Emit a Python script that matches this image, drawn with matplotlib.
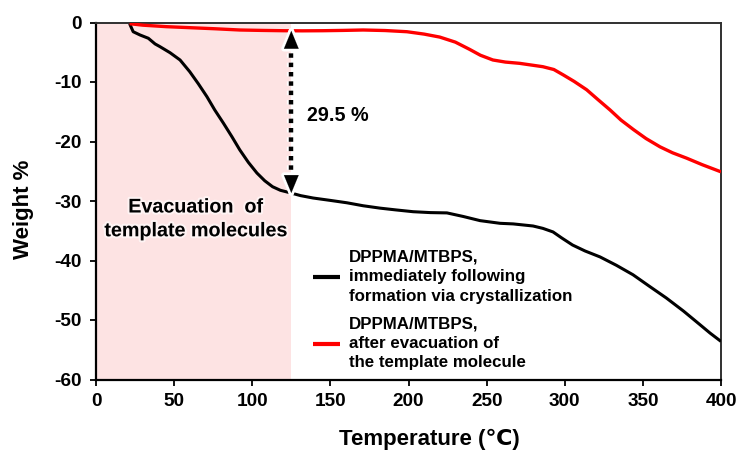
import matplotlib
matplotlib.use("Agg")
import matplotlib.pyplot as plt
import matplotlib.patheffects as pe
import numpy as np

plt.rcParams['font.family'] = ['Liberation Sans', 'DejaVu Sans']
plt.rcParams['font.weight'] = 'bold'
plt.rcParams['axes.unicode_minus'] = False

# TGA curve: as-crystallised DPPMA/MTBPS
temp_fresh = [21.5, 23.8, 28.2, 33.5, 37.8, 41, 47.4, 53.8, 60, 65.5, 71, 76, 81.5, 87,
              92, 97.5, 103, 108, 113, 118, 124, 131, 139, 150, 160.6, 171, 181.8, 192,
              203, 214, 224.6, 235, 245.8, 258.6, 267, 279.7, 286, 292.5, 298, 305,
              313, 322.6, 333, 343.7, 354, 365, 376, 386.6, 393, 400]
weight_fresh = [-0.2, -1.55, -2.1, -2.65, -3.6, -4.07, -5.08, -6.3, -8.27, -10.3, -12.47,
                -14.7, -16.9, -19.2, -21.4, -23.5, -25.3, -26.6, -27.6, -28.2, -28.6,
                -29.1, -29.5, -29.9, -30.3, -30.8, -31.2, -31.5, -31.8, -31.95, -32.0,
                -32.6, -33.3, -33.75, -33.85, -34.2, -34.6, -35.2, -36.2, -37.4, -38.4,
                -39.4, -40.8, -42.4, -44.3, -46.3, -48.5, -50.8, -52.2, -53.6]

# TGA curve: after evacuation of the template molecule
temp_evac = [21.5, 30, 45, 60, 76, 92, 106, 119.7, 132, 145, 158, 171, 185, 199, 210,
             220, 230, 239, 246, 254, 262, 271, 286, 293, 299, 306, 314, 321, 329,
             336, 344, 352, 361, 369, 378, 388, 400]
weight_evac = [-0.2, -0.45, -0.7, -0.87, -1.05, -1.26, -1.33, -1.38, -1.4, -1.38, -1.33,
               -1.26, -1.35, -1.55, -1.95, -2.45, -3.3, -4.5, -5.5, -6.3, -6.65, -6.86,
               -7.43, -7.9, -8.8, -9.9, -11.3, -12.9, -14.7, -16.4, -18.0, -19.5,
               -20.9, -21.9, -22.8, -23.9, -25.1]

labels = ["DPPMA/MTBPS,\nimmediately following\nformation via crystallization",
          "DPPMA/MTBPS,\nafter evacuation of\nthe template molecule"]

evac_end = 125          # end of template-evacuation stage (°C)
loss_text = "29.5 %"

x_ticks = [0, 50, 100, 150, 200, 250, 300, 350, 400]
y_ticks = [0, -10, -20, -30, -40, -50, -60]

fig = plt.figure(figsize=(7.4, 4.5), dpi=100)
ax = fig.add_axes([96 / 740, 1 - 379.5 / 450, 625 / 740, 357 / 450])

ax.axvspan(0, evac_end, color='#FDE3E3', lw=0, zorder=0)

ax.plot(temp_fresh, weight_fresh, color='black', lw=2.2, label=labels[0], zorder=3,
        solid_capstyle='butt')
ax.plot(temp_evac, weight_evac, color='#FF0000', lw=2.4, label=labels[1], zorder=3,
        solid_capstyle='butt')

ax.set_xlim(0, 400)
ax.set_ylim(-60, 0)
ax.set_xticks(x_ticks)
ax.set_yticks(y_ticks)
ax.tick_params(axis='both', direction='out', length=4, width=1.3, labelsize=13.7)
ax.tick_params(axis='y', pad=6)
ax.tick_params(axis='x', pad=6)
for lbl in ax.get_xticklabels() + ax.get_yticklabels():
    lbl.set_fontweight('bold')

for side in ['left', 'bottom']:
    ax.spines[side].set_linewidth(1.6)
    ax.spines[side].set_color('black')
for side in ['top', 'right']:
    ax.spines[side].set_linewidth(1.4)
    ax.spines[side].set_color('#303030')

# double-headed dotted arrow between the two curves at the end of the evacuation stage
y_top = float(np.interp(evac_end, temp_evac, weight_evac))
y_bot = float(np.interp(evac_end, temp_fresh, weight_fresh))
halo = [pe.withStroke(linewidth=6, foreground='white')]
head_len = 2.2
ax.plot([evac_end, evac_end], [y_top - head_len, y_bot + head_len], color='black',
        lw=3.2, linestyle=(0, (1, 1.1)), zorder=5, path_effects=halo,
        solid_capstyle='butt', dash_capstyle='butt')
for tip, tail in [(y_top, y_top - head_len - 0.3), (y_bot, y_bot + head_len + 0.3)]:
    ax.annotate('', xy=(evac_end, tip), xytext=(evac_end, tail),
                arrowprops=dict(arrowstyle='-|>,head_length=0.8,head_width=0.33',
                                color='black', lw=0.1, shrinkA=0, shrinkB=0,
                                mutation_scale=16,
                                path_effects=[pe.withStroke(linewidth=4, foreground='white')]),
                zorder=6)

ax.text(135, -15.7, loss_text, fontsize=14.2, fontweight='bold', ha='left', va='center',
        zorder=6)
ax.text(64, -33.0, "Evacuation  of\ntemplate molecules", fontsize=14.2,
        fontweight='bold', ha='center', va='center', linespacing=1.32, zorder=6,
        path_effects=[pe.withStroke(linewidth=3, foreground='white', alpha=0.6)])

leg = ax.legend(loc='upper left', bbox_to_anchor=(313 / 740, 1 - 250 / 450),
                bbox_transform=fig.transFigure, frameon=False, fontsize=12.2,
                handlelength=1.6, handletextpad=0.5, labelspacing=0.78,
                borderpad=0, borderaxespad=0)
for line in leg.get_lines():
    line.set_linewidth(3)
for t in leg.get_texts():
    t.set_fontweight('bold')
    t.set_linespacing(1.36)

fig.text(23 / 740, 1 - 209 / 450, "Weight %", rotation=90, fontsize=16,
         fontweight='bold', ha='center', va='center')
fig.text(429 / 740, 1 - 445 / 450, "Temperature (\u2103)", fontsize=16,
         fontweight='bold', ha='center', va='baseline')

fig.savefig("out.png", dpi=100)
